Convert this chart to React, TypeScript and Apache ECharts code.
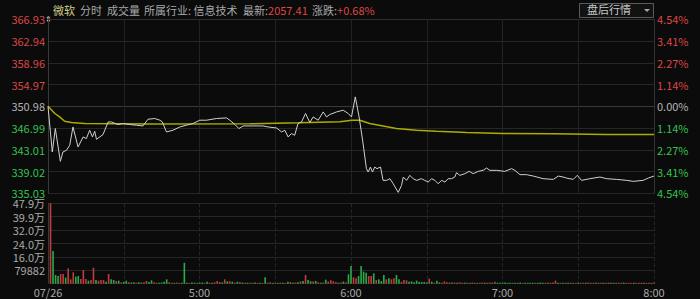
import React, { useEffect, useRef } from "react";
import * as echarts from "echarts";

const prevClose = 350.98;
const priceTicks = ["335.03", "339.02", "343.01", "346.99", "350.98", "354.97", "358.96", "362.94", "366.93"];
const pctTicks = ["4.54%", "3.41%", "2.27%", "1.14%", "0.00%", "1.14%", "2.27%", "3.41%", "4.54%"];
const volTicks = ["", "79882", "16.0万", "24.0万", "32.0万", "39.9万", "47.9万"];
const timeTicks = ["07/26", "5:00", "6:00", "7:00", "8:00"];

const lineMinutes = [
  0, 1.7, 2.9, 4.9, 5.9, 7.3, 8.6, 9.9, 11.9, 13.9,
  15.2, 16.5, 17.6, 18.5, 19.2, 21.8, 23.8, 25.1, 27.7, 29.7,
  32.4, 35.0, 37.6, 39.6, 42.3, 44.3, 45.3, 46.9, 49.5, 52.2,
  54.8, 57.4, 60.1, 62.8, 66.7, 70.7, 72.0, 74.0, 75.6, 77.3,
  81.2, 85.2, 87.2, 90.5, 92.5, 93.8, 95.1, 96.4, 97.7, 99.0,
  100.4, 102.0, 103.7, 105.0, 107.0, 109.0, 110.3, 111.6, 114.3, 116.9,
  118.9, 120.2, 121.7, 123.2, 124.7, 126.1, 126.8, 127.7, 128.5, 129.4,
  130.3, 131.7, 132.7, 134.1, 135.4, 136.7, 138.7, 140.0, 140.7, 142.0,
  143.3, 144.6, 146.0, 147.9, 149.2, 150.6, 151.9, 153.2, 154.5, 155.9,
  157.2, 158.5, 159.8, 161.1, 161.8, 163.1, 165.1, 166.8, 168.4, 170.4,
  172.3, 173.7, 175.0, 177.7, 180.9, 183.6, 184.9, 186.9, 189.5, 192.2,
  196.1, 200.1, 202.1, 204.0, 205.4, 208.0, 209.6, 211.3, 214.6, 218.6,
  221.2, 225.2, 229.2, 231.8, 235.7, 237.7, 240,
];
const linePrices = [
  350.98, 342.60, 346.90, 340.89, 342.60, 342.91, 343.83, 347.19, 343.52, 345.36,
  345.06, 346.59, 345.36, 346.40, 344.93, 345.80, 348.11, 348.11, 347.64, 347.82,
  347.64, 347.51, 347.38, 348.61, 348.74, 348.43, 348.11, 346.28, 346.59, 347.19,
  347.51, 347.82, 348.43, 348.43, 348.74, 348.85, 348.43, 347.64, 346.90, 347.38,
  347.38, 347.38, 347.19, 347.01, 346.28, 346.59, 345.36, 345.98, 345.67, 347.82,
  348.11, 349.66, 348.00, 349.03, 348.43, 349.95, 349.03, 349.47, 349.95, 350.26,
  349.66, 349.03, 352.71, 349.03, 344.44, 339.55, 338.93, 339.84, 338.93, 339.84,
  339.55, 339.84, 337.40, 337.40, 337.71, 336.79, 335.20, 336.48, 338.01, 337.40,
  338.32, 337.71, 337.40, 337.71, 337.40, 337.09, 337.71, 337.40, 336.79, 337.40,
  337.09, 337.71, 337.71, 338.01, 338.81, 338.32, 338.63, 339.05, 338.63, 339.05,
  339.24, 339.66, 339.24, 339.24, 339.05, 339.55, 339.24, 338.45, 338.45, 338.19,
  337.71, 337.58, 338.19, 338.01, 337.82, 337.58, 338.32, 337.40, 337.71, 338.01,
  337.71, 337.58, 337.40, 337.22, 337.40, 337.82, 338.19,
];

const avgMinutes = [0, 2.7, 4.6, 6.6, 9.3, 14.5, 40.3, 80, 99.3, 115.6, 120.3, 123.5, 127.4, 132.7, 138, 146, 153.9, 165.8, 180.3, 200, 221.2, 240];
const avgPrices = [350.98, 349.66, 349.03, 348.24, 348.0, 347.82, 347.73, 347.78, 347.97, 348.15, 348.43, 348.43, 347.82, 347.38, 346.9, 346.59, 346.4, 346.16, 345.98, 345.94, 345.8, 345.8];

// volume per minute, minute 1..240
const volumes = [
  479292, 195000, 52000, 46000, 58000, 58000, 36000, 91000, 26000, 68000,
  42000, 46000, 28000, 82000, 28000, 18000, 22000, 95000, 22000, 18000,
  22000, 22000, 12000, 58000, 26000, 22000, 16000, 18000, 8000, 10000,
  18000, 8000, 7000, 9000, 6000, 8000, 7000, 9000, 16000, 10000,
  20000, 8000, 6000, 5000, 7000, 12000, 26000, 8000, 6000, 5000,
  7000, 5000, 6000, 125000, 6000, 5000, 7000, 6000, 5000, 6000,
  7000, 5000, 12000, 6000, 5000, 8000, 16000, 10000, 8000, 26000,
  14000, 15000, 12000, 6000, 12000, 10000, 7000, 5000, 6000, 5000,
  6000, 7000, 5000, 6000, 5000, 38000, 6000, 9000, 5000, 6000,
  5000, 7000, 6000, 5000, 12000, 10000, 6000, 7000, 8000, 14000,
  16000, 52000, 22000, 15000, 13000, 16000, 8000, 6000, 7000, 24000,
  13000, 20000, 15000, 9000, 6000, 7000, 13000, 8000, 56000, 105000,
  38000, 32000, 46000, 105000, 72000, 66000, 46000, 46000, 62000, 22000,
  26000, 16000, 52000, 26000, 32000, 26000, 32000, 52000, 26000, 12000,
  22000, 20000, 12000, 14000, 8000, 18000, 10000, 10000, 10000, 8000,
  30000, 12000, 6000, 18000, 8000, 6000, 14000, 8000, 6000, 8000,
  7000, 6000, 8000, 6000, 7000, 6000, 5000, 7000, 6000, 5000,
  6000, 7000, 5000, 6000, 7000, 6000, 12000, 6000, 5000, 6000,
  7000, 5000, 6000, 5000, 6000, 5000, 7000, 5000, 6000, 5000,
  6000, 5000, 6000, 5000, 7000, 5000, 6000, 5000, 6000, 7000,
  18000, 6000, 5000, 6000, 5000, 7000, 5000, 6000, 5000, 6000,
  5000, 6000, 5000, 7000, 5000, 6000, 5000, 6000, 5000, 6000,
  5000, 7000, 5000, 6000, 5000, 6000, 5000, 7000, 5000, 6000,
  5000, 6000, 5000, 6000, 5000, 7000, 5000, 6000, 5000, 7000,
];
const volDirs = (
  "rgggrrgrrr" + "ggrrrgrrgr" + "rrgrggrgrg" + "grggrggrrg" + "grrggggrrg" +
  "rrgggrggrg" + "grgrgrrrgr" + "grgrgrgrgr" + "rgrgrgrrgr" + "grgrgrgrgr" +
  "grggrgrgrg" + "rrrrgrgrgg" + "rrggggrrgr" + "gggrgrrggr" + "rrgggggggg" +
  "rgrggrrrgr" + "rgrrgrgrrg" + "rrgrrgrggg" + "gggrgggrgg" + "ggrgggrgrr" +
  "rgrggrgrrg" + "rrgrrrgrrg" + "rrggrrrgrr" + "rgrrgrrrgr"
).split("");

const RED = "#dc4646";
const GREEN = "#33c24e";
const GRAY = "#b4b4b4";
const FONT = "Noto Sans CJK SC";

export default function App() {
  const ref = useRef<HTMLDivElement>(null);
  useEffect(() => {
    if (!ref.current) return;
    const chart = echarts.init(ref.current, null, { renderer: "svg" });
    const step = (366.93 - 335.03) / 8;
    const tickIdx = (v: any) => Math.round(Number(v) / step) + 4;
    const priceColor = (v: any) => {
      const i = Math.round(Number(v) / step);
      return i > 0 ? RED : i < 0 ? GREEN : GRAY;
    };
    const volStep = 79882;
    const splitColors = ["#262626", "#262626", "#262626", "#262626", "#3a3a3a", "#262626", "#262626", "#262626", "#2e2e2e"];
    const hdr = (left: number, text: string, fill: string) => ({
      type: "text", left, top: 4, style: { text, fill, fontSize: 11, fontFamily: FONT },
    });

    const option: any = {
      animation: false,
      backgroundColor: "#0b0b0b",
      grid: [
        { left: 48, right: 46, top: 19.3, height: 174 },
        { left: 48, right: 46, top: 203.3, height: 80.4 },
      ],
      xAxis: [
        {
          type: "value", gridIndex: 0, min: 0, max: 240, interval: 30,
          axisLabel: { show: false }, axisTick: { show: false },
          axisLine: { show: false },
          splitLine: { show: true, lineStyle: { color: "#222222", width: 1 } },
        },
        {
          type: "value", gridIndex: 1, min: 0, max: 240, interval: 30,
          axisTick: { show: false },
          axisLine: { show: true, lineStyle: { color: "#262626" } },
          splitLine: { show: true, lineStyle: { color: "#262626", type: "dashed", width: 1 } },
          axisLabel: {
            show: true, margin: 3, color: "#a8a8a8", fontSize: 11, fontFamily: FONT,
            showMinLabel: true, showMaxLabel: true,
            formatter: (v: number) => (v % 60 === 0 ? timeTicks[v / 60] : ""),
          },
        },
      ],
      yAxis: [
        {
          type: "value", gridIndex: 0, min: -4 * step, max: 4 * step, interval: step,
          axisLine: { show: true, lineStyle: { color: "#3a3a3a" } },
          axisTick: { show: false },
          splitLine: { show: true, lineStyle: { color: splitColors, width: 1 } },
          axisLabel: {
            margin: 3, fontSize: 11, lineHeight: 9, fontFamily: FONT,
            formatter: (v: number) => priceTicks[tickIdx(v)],
            color: priceColor,
          },
        },
        {
          type: "value", gridIndex: 0, position: "right", min: -4 * step, max: 4 * step, interval: step,
          axisLine: { show: true, lineStyle: { color: "#333333" } },
          axisTick: { show: false },
          splitLine: { show: false },
          axisLabel: {
            margin: 3, fontSize: 11, lineHeight: 9, fontFamily: FONT,
            formatter: (v: number) => pctTicks[tickIdx(v)],
            color: priceColor,
          },
        },
        {
          type: "value", gridIndex: 1, min: 0, max: volStep * 6, interval: volStep,
          axisLine: { show: true, lineStyle: { color: "#3a3a3a" } },
          axisTick: { show: false },
          splitLine: { show: true, lineStyle: { color: "#262626", width: 1 } },
          axisLabel: {
            margin: 3, fontSize: 11, lineHeight: 9, fontFamily: FONT, color: "#a8a8a8",
            formatter: (v: number) => volTicks[Math.round(v / volStep)],
          },
        },
      ],
      series: [
        {
          type: "line", xAxisIndex: 0, yAxisIndex: 0, showSymbol: false, symbol: "none",
          data: avgMinutes.map((m, i) => [m, avgPrices[i] - prevClose]),
          lineStyle: { color: "#acac00", width: 1.5 }, z: 3,
        },
        {
          type: "line", xAxisIndex: 0, yAxisIndex: 0, showSymbol: false, symbol: "none",
          data: lineMinutes.map((m, i) => [m, linePrices[i] - prevClose]),
          lineStyle: { color: "#d0d0d0", width: 1 }, z: 4,
        },
        {
          type: "bar", xAxisIndex: 1, yAxisIndex: 2, barWidth: 1.6,
          data: volumes.map((v, i) => ({
            value: [i + 1, v],
            itemStyle: { color: volDirs[i] === "r" ? "#c23c3c" : "#2aac48" },
          })),
        },
      ],
      graphic: [
        hdr(53, "微软", "#cfcf8a"),
        hdr(80, "分时", "#a8a8a8"),
        hdr(107, "成交量", "#a8a8a8"),
        hdr(144, "所属行业: 信息技术", "#a8a8a8"),
        {
          type: "text", left: 243, top: 4,
          style: {
            text: "{g|最新:}{r|2057.41}",
            fontSize: 11, fontFamily: FONT,
            rich: { g: { fill: "#a8a8a8", fontSize: 11, fontFamily: FONT }, r: { fill: RED, fontSize: 11, fontFamily: FONT } },
          },
        },
        {
          type: "text", left: 312, top: 4,
          style: {
            text: "{g|涨跌:}{r|+0.68%}",
            fontSize: 11, fontFamily: FONT,
            rich: { g: { fill: "#a8a8a8", fontSize: 11, fontFamily: FONT }, r: { fill: RED, fontSize: 11, fontFamily: FONT } },
          },
        },
        { type: "rect", shape: { x: 579.5, y: 3.5, width: 74, height: 14 }, style: { fill: "#121212", stroke: "#5a5a5a", lineWidth: 1 } },
        { type: "text", left: 587, top: 3.5, style: { text: "盘后行情", fill: "#c8c8c8", fontSize: 11, fontFamily: FONT } },
        { type: "polygon", shape: { points: [[644, 9], [650, 9], [647, 12]] }, style: { fill: "#a8a8a8" } },
        { type: "text", left: 45, top: 15, style: { text: "⇕", fill: "#dddddd", fontSize: 8, fontFamily: "DejaVu Sans" } },
      ],
    };
    chart.setOption(option);
    return () => chart.dispose();
  }, []);
  return <div ref={ref} style={{ position: "fixed", left: 0, top: 0, width: 700, height: 299 }} />;
}
